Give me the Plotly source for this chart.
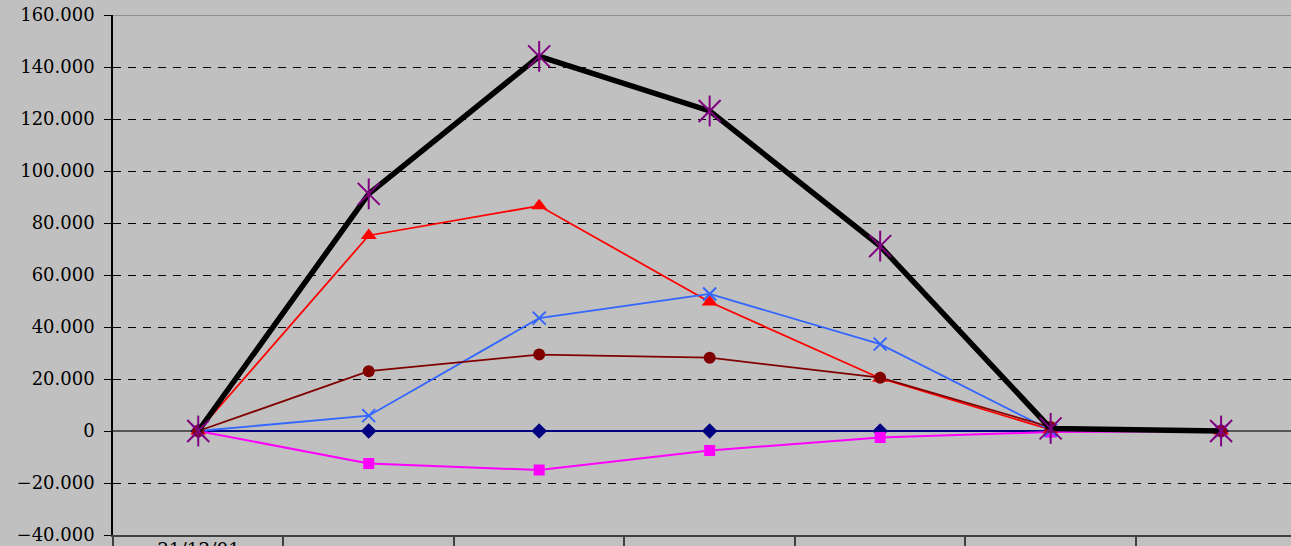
import plotly.graph_objects as go

# category positions along the time axis (only the first carries a label)
categories = ["c1", "c2", "c3", "c4", "c5", "c6", "c7"]
tick_labels = ["31/12/01", "", "", "", "", "", ""]

# series values
diamond_navy = [0, 0, 0, 0, 0, 0, 0]
square_magenta = [0, -12500, -15000, -7500, -2500, -400, 0]
triangle_red = [0, 75200, 86600, 49600, 20300, 500, 0]
cross_blue = [0, 5900, 43400, 52700, 33400, 300, 0]
circle_darkred = [0, 23000, 29400, 28200, 20500, 1500, 0]
total_black = [0, 91200, 144100, 123100, 71100, 1000, 0]

fig = go.Figure()

def add_series(values, color, symbol, size, width, mline=0):
    fig.add_trace(go.Scatter(
        x=categories, y=values, mode="lines+markers",
        line=dict(color=color, width=width),
        marker=dict(symbol=symbol, size=size, color=color,
                    line=dict(color=color, width=mline)),
        showlegend=False, cliponaxis=False,
    ))

add_series(diamond_navy, "#000080", "diamond", 12, 2)
add_series(square_magenta, "#FF00FF", "square", 11, 2)
add_series(triangle_red, "#FF0000", "triangle-up", 14, 1.8)
add_series(cross_blue, "#3366FF", "x-thin-open", 13, 1.8, mline=2)
add_series(circle_darkred, "#800000", "circle", 12, 1.8)

# total line with star markers (cross + vertical bar)
fig.add_trace(go.Scatter(
    x=categories, y=total_black, mode="lines",
    line=dict(color="#000000", width=5.5), showlegend=False,
))
fig.add_trace(go.Scatter(
    x=categories, y=total_black, mode="markers",
    marker=dict(symbol="x-thin-open", size=22, color="#800080",
                line=dict(color="#800080", width=2)),
    showlegend=False, cliponaxis=False,
))
fig.add_trace(go.Scatter(
    x=categories, y=total_black, mode="markers",
    marker=dict(symbol="line-ns-open", size=22, color="#800080",
                line=dict(color="#800080", width=2)),
    showlegend=False, cliponaxis=False,
))

fig.add_annotation(
    x=categories[0], y=0, xref="x", yref="paper", yanchor="top",
    yshift=-3, text=tick_labels[0], showarrow=False, borderpad=0,
    font=dict(family="DejaVu Serif", size=18.5, color="#000000"),
)

# solid border along the top of the plotting area
fig.add_shape(type="line", xref="paper", yref="y", x0=0, x1=1,
              y0=160000, y1=160000, line=dict(color="#808080", width=1.5),
              layer="above")

fig.update_layout(
    width=1291, height=546,
    margin=dict(l=113, r=0, t=15, b=11),
    paper_bgcolor="#C0C0C0", plot_bgcolor="#C0C0C0",
    separators=",.",
    xaxis=dict(
        type="category", categoryorder="array", categoryarray=categories,
        range=[-0.5, 6.41], tickson="boundaries", automargin=False,
        ticks="outside", ticklen=14, tickcolor="#404040", tickwidth=1.5,
        showticklabels=False, showgrid=False, zeroline=False,
        showline=True, linecolor="#404040", linewidth=1.5,
    ),
    yaxis=dict(
        range=[-40000, 160000], tick0=-40000, dtick=20000, automargin=False,
        tickformat=",d", ticks="outside", ticklen=7, tickcolor="#000000",
        tickfont=dict(family="DejaVu Serif", size=18, color="#000000"),
        ticklabelstandoff=6,
        showgrid=True, gridcolor="#000000", gridwidth=1, griddash="8px,7px",
        zeroline=True, zerolinecolor="#555555", zerolinewidth=1.5,
        showline=True, linecolor="#000000", linewidth=1.5,
    ),
)

fig.write_html("out.html")
